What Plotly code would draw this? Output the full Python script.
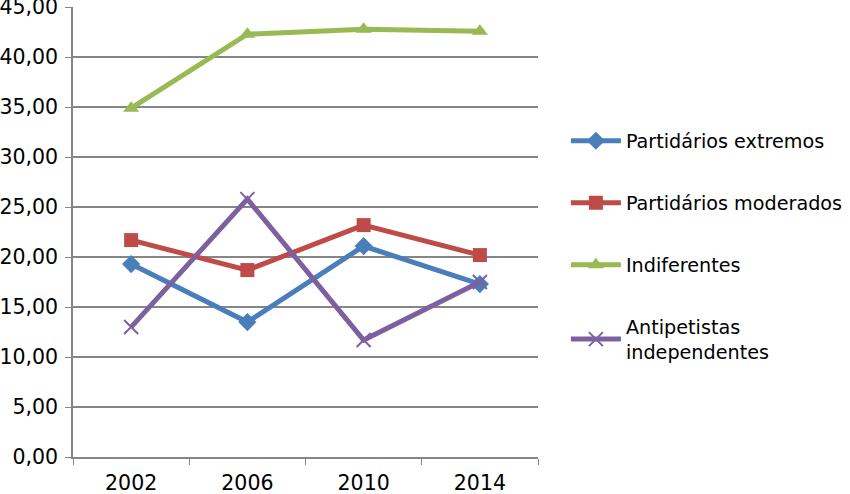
import plotly.graph_objects as go

years = ["2002", "2006", "2010", "2014"]
extremos = [19.3, 13.5, 21.1, 17.3]
moderados = [21.7, 18.7, 23.2, 20.2]
indiferentes = [34.9, 42.3, 42.8, 42.6]
antipetistas = [13.0, 25.8, 11.7, 17.5]

names = ["Partidários extremos", "Partidários moderados", "Indiferentes",
         "Antipetistas<br>independentes"]
colors = ["#4A7EBB", "#BE4B48", "#98B954", "#7D60A0"]
symbols = ["diamond", "square", "triangle-up", "x-thin"]
series = [extremos, moderados, indiferentes, antipetistas]

fig = go.Figure()
for i, (nm, c, s, v) in enumerate(zip(names, colors, symbols, series)):
    marker = dict(symbol=s, size=14, color=c)
    if s == "x-thin":
        marker = dict(symbol=s, size=14, color=c, line=dict(width=2, color=c))
    fig.add_trace(go.Scatter(x=years, y=v, name=nm, mode="lines+markers",
                             line=dict(color=c, width=5), marker=marker,
                             legendgroup=str(i), cliponaxis=False))

fig.update_layout(
    width=850, height=494,
    margin=dict(l=73, r=312, t=7, b=37, autoexpand=False),
    paper_bgcolor="white", plot_bgcolor="white",
    font=dict(family="DejaVu Sans", size=20.5, color="black"),
    showlegend=True,
    legend=dict(x=1.06, y=0.745, xanchor="left", yanchor="top",
                traceorder="grouped", tracegroupgap=34,
                font=dict(size=19.2), bgcolor="rgba(0,0,0,0)", itemwidth=50),
    xaxis=dict(type="category", range=[-0.5, 3.5], showgrid=False, showline=True,
               linecolor="#868686", linewidth=1.5, ticks="outside", ticklen=6,
               tickcolor="#868686", tickson="boundaries", automargin=False,
               ticklabelstandoff=7),
    yaxis=dict(range=[0, 45.02], dtick=5, tickformat=".2f",
               showgrid=True, gridcolor="#868686", gridwidth=1.5,
               showline=True, linecolor="#868686", linewidth=1.5,
               ticks="outside", ticklen=6, tickcolor="#868686", zeroline=False,
               automargin=False, ticklabelstandoff=3, ticklabeloverflow="allow"),
    separators=",.",
)
fig.write_html("out.html", config={"displayModeBar": False},
               post_script="document.body.style.margin='0px';")
